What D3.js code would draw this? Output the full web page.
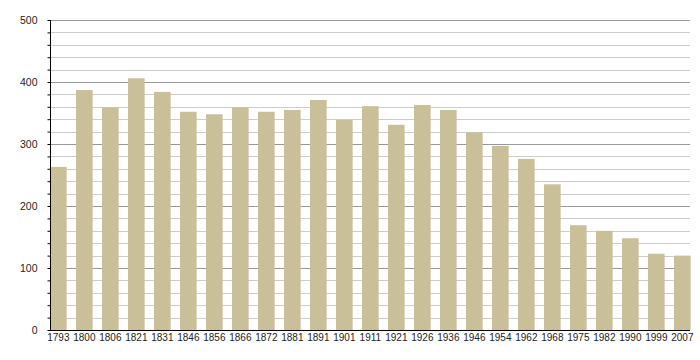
<!DOCTYPE html>
<html>
<head>
<meta charset="utf-8">
<script src="https://cdn.jsdelivr.net/npm/d3@7"></script>
<style>
    body { margin: 0; background: #fff; }
</style>
</head>
<body>
<div id="graph"></div>
<script>

// data
var years = ["1793", "1800", "1806", "1821", "1831", "1846", "1856", "1866", "1872", "1881",
    "1891", "1901", "1911", "1921", "1926", "1936", "1946", "1954", "1962", "1968",
    "1975", "1982", "1990", "1999", "2007"];
var population = [263, 387, 359, 406, 384, 352, 348, 359, 352, 355,
    371, 339, 361, 331, 363, 355, 319, 297, 276, 235,
    169, 160, 148, 123, 120];
var yTicks = [0, 100, 200, 300, 400, 500];

// init size
var graphWidth = 700;
var graphHeight = 360;
var plotLeft = 50;
var plotRight = 690;
var plotTop = 20;
var plotBottom = 330;
var step = 26;
var fontFamily = "'Liberation Sans', Arial, sans-serif";

// init scales
var x = d3.scaleBand()
    .domain(years)
    .range([plotLeft, plotLeft + years.length*step])
    .padding(0);

var y = d3.scaleLinear()
    .domain([0, 500])
    .range([plotBottom, plotTop]);

var barWidth = 0.64*x.bandwidth();

// init svg
var svg = d3.select("#graph")
    .append("svg")
    .attr("width", graphWidth)
    .attr("height", graphHeight);

// minor grid
svg.append("g")
    .attr("class", "grid-minor")
    .selectAll("line")
    .data(d3.range(20, 500, 20).filter(d => d % 100 != 0))
    .enter().append("line")
    .attr("x1", plotLeft)
    .attr("x2", plotRight)
    .attr("y1", d => Math.round(y(d)) + 0.5)
    .attr("y2", d => Math.round(y(d)) + 0.5)
    .attr("stroke", "#cccccc");

// major grid
svg.append("g")
    .attr("class", "grid-major")
    .selectAll("line")
    .data(yTicks.filter(d => d > 0))
    .enter().append("line")
    .attr("x1", plotLeft)
    .attr("x2", plotRight)
    .attr("y1", d => Math.round(y(d)) + 0.5)
    .attr("y2", d => Math.round(y(d)) + 0.5)
    .attr("stroke", "#999999");

// bars
svg.append("g")
    .attr("class", "bars")
    .selectAll("rect")
    .data(population)
    .enter().append("rect")
    .attr("x", (d, i) => x(years[i]))
    .attr("y", d => y(d))
    .attr("width", barWidth)
    .attr("height", d => plotBottom - y(d))
    .attr("fill", "#c9c09a");

// y axis
var yAxis = svg.append("g")
    .attr("transform", "translate(" + (plotLeft + 0.5) + ",0)")
    .call(d3.axisLeft(y).tickValues(d3.range(0, 520, 20)).tickSize(3).tickFormat(d => d % 100 == 0 ? d : ""));

yAxis.select(".domain").attr("stroke", "#000").attr("d", "M0," + plotTop + "V" + plotBottom);
yAxis.selectAll(".tick line").attr("stroke", "#000");
yAxis.selectAll(".tick text")
    .attr("x", -13)
    .style("font-family", fontFamily)
    .style("font-size", "10.5px")
    .attr("fill", "#222");

// x axis
var xAxis = svg.append("g")
    .attr("transform", "translate(0," + (plotBottom + 0.5) + ")")
    .call(d3.axisBottom(x).tickSize(0).tickPadding(3));

xAxis.select(".domain").attr("stroke", "#000").attr("d", "M" + plotLeft + ",0H" + plotRight);
xAxis.selectAll(".tick")
    .attr("transform", d => "translate(" + (x(d) + 0.5*barWidth) + ",0)");
xAxis.selectAll(".tick text")
    .style("font-family", fontFamily)
    .style("font-size", "10px")
    .attr("fill", "#222");

</script>
</body>
</html>
